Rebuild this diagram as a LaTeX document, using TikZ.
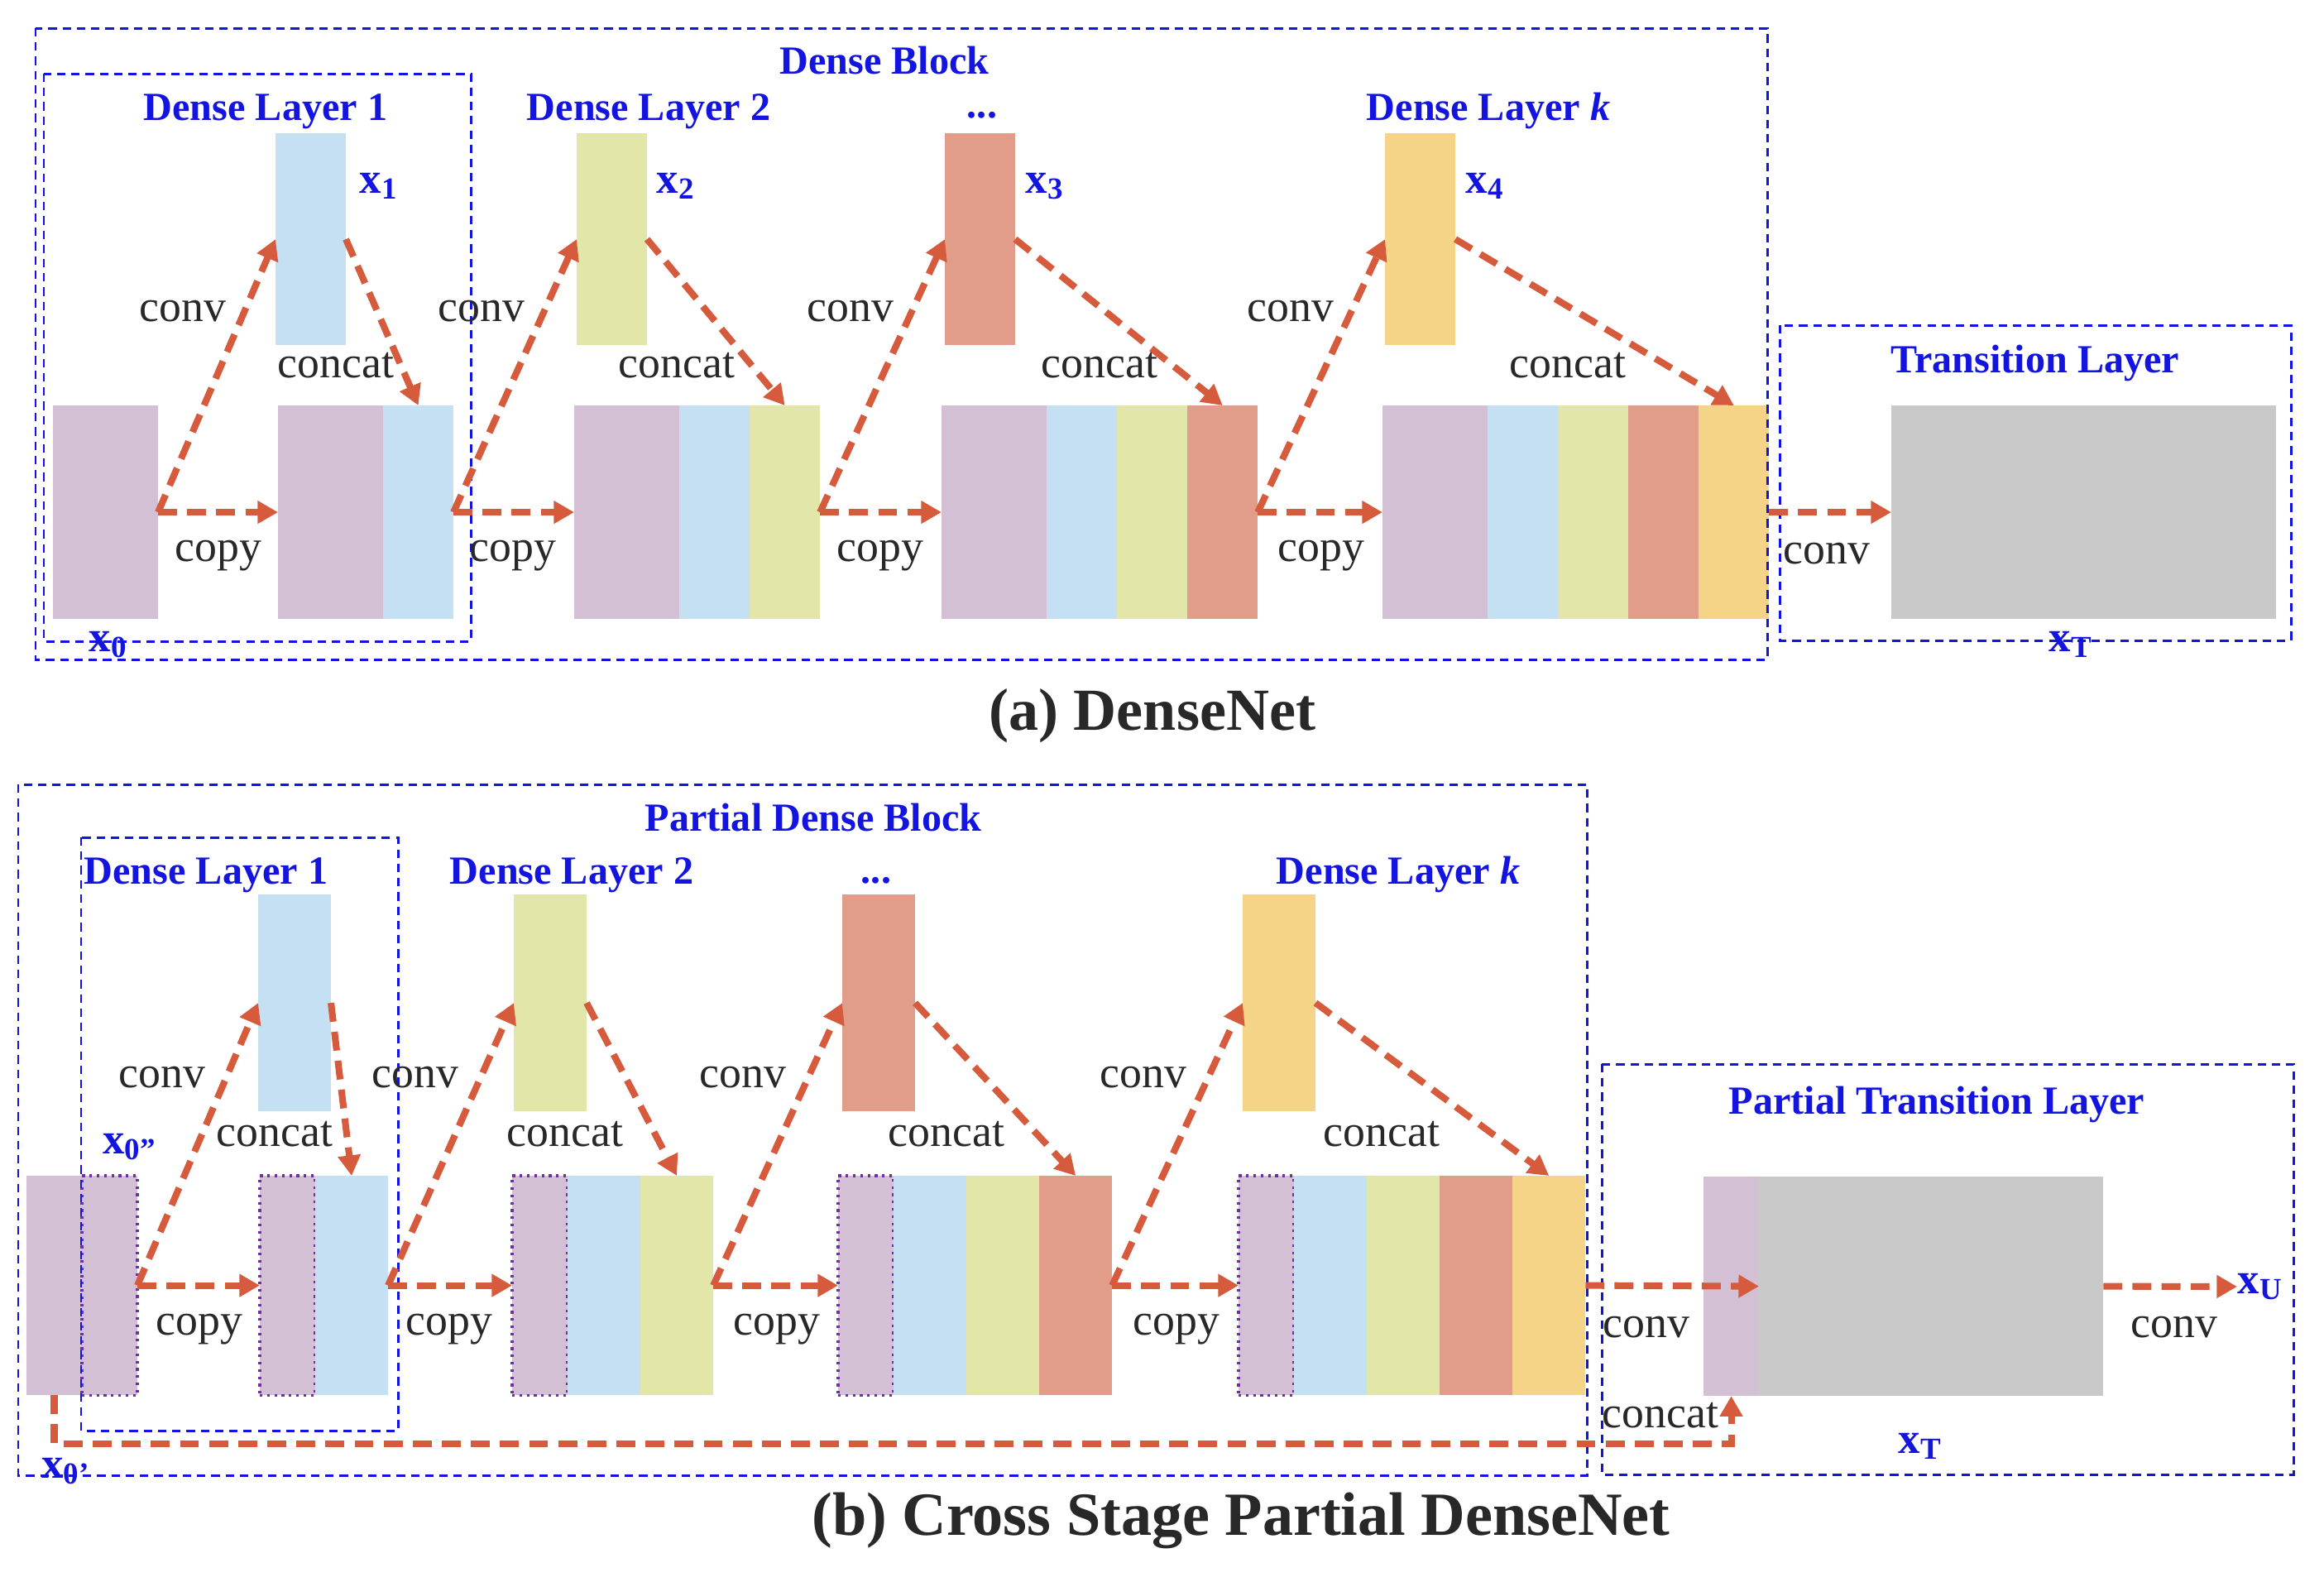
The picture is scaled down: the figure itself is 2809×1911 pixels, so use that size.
\documentclass[tikz,border=0pt]{standalone}
\usepackage{fontspec}
\setmainfont{Liberation Serif}
\usetikzlibrary{positioning}
\usetikzlibrary{arrows.meta}
\definecolor{cpur}{RGB}{211,192,213}
\definecolor{cblu}{RGB}{197,224,242}
\definecolor{cgrn}{RGB}{226,230,169}
\definecolor{cred}{RGB}{226,156,138}
\definecolor{cyel}{RGB}{245,212,135}
\definecolor{cgry}{RGB}{201,201,201}
\definecolor{carr}{RGB}{214,90,60}
\definecolor{cbox}{RGB}{20,20,225}
\definecolor{cdot}{RGB}{112,48,160}
\definecolor{ctxt}{RGB}{40,40,40}
\tikzset{
fm/.style={ % one slice of a feature map
inner sep=0pt, outer sep=0pt, anchor=north west, fill=#1},
sa/.style={fm=#1, minimum width=0.85cm, minimum height=2.58cm}, % slice in (a)
ba/.style={fm=cpur, minimum width=1.27cm, minimum height=2.58cm}, % input x0 in (a)
ta/.style={fm=#1, minimum width=0.85cm, minimum height=2.56cm}, % new output in (a)
sb/.style={fm=#1, minimum width=0.88cm, minimum height=2.65cm}, % slice in (b)
pb/.style={fm=cpur, minimum width=0.67cm, minimum height=2.65cm}, % half of x0 in (b)
pd/.style={pb, draw=cdot, line width=0.9pt, dash pattern=on 0.9pt off 1.6pt},
tb/.style={fm=#1, minimum width=0.88cm, minimum height=2.62cm}, % new output in (b)
flow/.style={ % dashed orange connectors
draw=carr, line width=2.3pt, dash pattern=on 6.5pt off 3.5pt,
-{Triangle[length=7pt,width=7.5pt]}},
grp/.style={draw=cbox, line width=0.85pt, dash pattern=on 2.9pt off 2pt}, % layer boxes
ttl/.style={text=cbox, font=\fontsize{13.7}{16}\selectfont\bfseries, anchor=base},
op/.style={text=ctxt, font=\fontsize{15.3}{18}\selectfont},
xl/.style={text=cbox, font=\fontsize{15}{18}\selectfont\bfseries, inner sep=0pt},
figcap/.style={text=ctxt, font=\fontsize{20.5}{24}\selectfont\bfseries, anchor=base}
}

\begin{document}
\begin{tikzpicture}[x=0.01cm, y=-0.01cm]
\useasboundingbox (0,0) rectangle (2809,1911);

% (a) DenseNet
\node[ba] (a0) at (64,490) {};
\node[ta=cblu] (ax1) at (333,161) {};
\node[ta=cgrn] (ax2) at (697,161) {};
\node[ta=cred] (ax3) at (1142,161) {};
\node[ta=cyel] (ax4) at (1674,161) {};

\node[ba] (a1p) at (336,490) {};
\node[sa=cblu, right=0pt of a1p] (a1b) {};

\node[ba] (a2p) at (694,490) {};
\node[sa=cblu, right=0pt of a2p] (a2b) {};
\node[sa=cgrn, right=0pt of a2b] (a2g) {};

\node[ba] (a3p) at (1138,490) {};
\node[sa=cblu, right=0pt of a3p] (a3b) {};
\node[sa=cgrn, right=0pt of a3b] (a3g) {};
\node[sa=cred, right=0pt of a3g] (a3r) {};

\node[ba] (a4p) at (1671,490) {};
\node[sa=cblu, right=0pt of a4p] (a4b) {};
\node[sa=cgrn, right=0pt of a4b] (a4g) {};
\node[sa=cred, right=0pt of a4g] (a4r) {};
\node[sa=cyel, right=0pt of a4r] (a4y) {};

\node[fm=cgry, minimum width=4.65cm, minimum height=2.58cm] (aT) at (2286,490) {};

\draw[grp] (43,34) rectangle (2136,797);
\draw[grp] (53,89) rectangle (569,775);
\draw[grp] (2151,393) rectangle (2769,774);

\draw[flow] (a0.east) -- (ax1.west);
\draw[flow] (a0.east) -- (a1p.west);
\draw[flow] (ax1.east) -- (a1b.north);
\draw[flow] (a1b.east) -- (ax2.west);
\draw[flow] (a1b.east) -- (a2p.west);
\draw[flow] (ax2.east) -- (a2g.north);
\draw[flow] (a2g.east) -- (ax3.west);
\draw[flow] (a2g.east) -- (a3p.west);
\draw[flow] (ax3.east) -- (a3r.north);
\draw[flow] (a3r.east) -- (ax4.west);
\draw[flow] (a3r.east) -- (a4p.west);
\draw[flow] (ax4.east) -- (a4y.north);
\draw[flow] (a4y.east) -- (aT.west);

\node[ttl] (tA) at (1069,89) {Dense Block};
\node[ttl] (tA1) at (321,145) {Dense Layer 1};
\node[ttl] (tA2) at (784,145) {Dense Layer 2};
\node[ttl] (tA3) at (1187,142) {...};
\node[ttl] (tAk) at (1799,145) {Dense Layer \textit{k}};
\node[ttl] (tAT) at (2460,450) {Transition Layer};

\node[op] (cvA1) at (221,376) {conv};
\node[op] (cvA2) at (582,376) {conv};
\node[op] (cvA3) at (1028,376) {conv};
\node[op] (cvA4) at (1560,376) {conv};
\node[op] (cvAT) at (2208,669) {conv};
\node[op] (ccA1) at (406,442) {concat};
\node[op] (ccA2) at (818,442) {concat};
\node[op] (ccA3) at (1329,442) {concat};
\node[op] (ccA4) at (1895,442) {concat};
\node[op] (cpA1) at (264,672) {copy};
\node[op] (cpA2) at (620,672) {copy};
\node[op] (cpA3) at (1064,672) {copy};
\node[op] (cpA4) at (1597,672) {copy};

\node[xl, anchor=west] (lx1) at (434,225) {x\textsubscript{1}};
\node[xl, anchor=west] (lx2) at (793,225) {x\textsubscript{2}};
\node[xl, anchor=west] (lx3) at (1239,225) {x\textsubscript{3}};
\node[xl, anchor=west] (lx4) at (1771,225) {x\textsubscript{4}};
\node[xl] (lx0) at (131,779) {x\textsubscript{0}};
\node[xl] (lxT) at (2503,779) {x\textsubscript{T}};

\node[figcap] (capA) at (1393,882) {(a) DenseNet};

% (b) Cross Stage Partial DenseNet
\node[pb] (b0) at (32,1421) {};
\node[pd, right=0pt of b0] (b0d) {};
\node[tb=cblu] (bx1) at (312,1081) {};
\node[tb=cgrn] (bx2) at (621,1081) {};
\node[tb=cred] (bx3) at (1018,1081) {};
\node[tb=cyel] (bx4) at (1502,1081) {};

\node[pd] (b1p) at (314,1421) {};
\node[sb=cblu, right=0pt of b1p] (b1b) {};

\node[pd] (b2p) at (619,1421) {};
\node[sb=cblu, right=0pt of b2p] (b2b) {};
\node[sb=cgrn, right=0pt of b2b] (b2g) {};

\node[pd] (b3p) at (1013,1421) {};
\node[sb=cblu, right=0pt of b3p] (b3b) {};
\node[sb=cgrn, right=0pt of b3b] (b3g) {};
\node[sb=cred, right=0pt of b3g] (b3r) {};

\node[pd] (b4p) at (1497,1421) {};
\node[sb=cblu, right=0pt of b4p] (b4b) {};
\node[sb=cgrn, right=0pt of b4b] (b4g) {};
\node[sb=cred, right=0pt of b4g] (b4r) {};
\node[sb=cyel, right=0pt of b4r] (b4y) {};

\node[pb] (bTp) at (2059,1422) {};
\node[fm=cgry, minimum width=4.16cm, minimum height=2.65cm, right=0pt of bTp] (bT) {};
\coordinate (xu) at (2704,1555);

\draw[grp] (22,948) rectangle (1918,1783);
\draw[grp] (98,1012) rectangle (481,1729);
\draw[grp] (1936,1286) rectangle (2772,1782);

\draw[flow] (b0d.east) -- (bx1.west);
\draw[flow] (b0d.east) -- (b1p.west);
\draw[flow] (bx1.east) -- (b1b.north);
\draw[flow] (b1b.east) -- (bx2.west);
\draw[flow] (b1b.east) -- (b2p.west);
\draw[flow] (bx2.east) -- (b2g.north);
\draw[flow] (b2g.east) -- (bx3.west);
\draw[flow] (b2g.east) -- (b3p.west);
\draw[flow] (bx3.east) -- (b3r.north);
\draw[flow] (b3r.east) -- (bx4.west);
\draw[flow] (b3r.east) -- (b4p.west);
\draw[flow] (bx4.east) -- (b4y.north);
\draw[flow] (b4y.east) -- (bT.west);
\draw[flow] (bT.east) -- (xu);
\draw[flow] (b0.south) -- ++(0,59) -| (bTp.south);

\node[ttl] (tB) at (983,1004) {Partial Dense Block};
\node[ttl] (tB1) at (249,1068) {Dense Layer 1};
\node[ttl] (tB2) at (691,1068) {Dense Layer 2};
\node[ttl] (tB3) at (1059,1067) {...};
\node[ttl] (tBk) at (1690,1068) {Dense Layer \textit{k}};
\node[ttl] (tBT) at (2341,1346) {Partial Transition Layer};

\node[op] (cvB1) at (196,1302) {conv};
\node[op] (cvB2) at (502,1302) {conv};
\node[op] (cvB3) at (898,1302) {conv};
\node[op] (cvB4) at (1382,1302) {conv};
\node[op] (cvBT) at (1990,1604) {conv};
\node[op] (cvBU) at (2628,1604) {conv};
\node[op] (ccB1) at (332,1371) {concat};
\node[op] (ccB2) at (683,1371) {concat};
\node[op] (ccB3) at (1144,1371) {concat};
\node[op] (ccB4) at (1670,1371) {concat};
\node[op] (ccBT) at (2007,1711) {concat};
\node[op] (cpB1) at (241,1607) {copy};
\node[op] (cpB2) at (543,1607) {copy};
\node[op] (cpB3) at (939,1607) {copy};
\node[op] (cpB4) at (1422,1607) {copy};

\node[xl] (lx0b) at (157,1386) {x\textsubscript{0''}};
\node[xl] (lx0a) at (80,1778) {x\textsubscript{0'}};
\node[xl] (lxTb) at (2321,1748) {x\textsubscript{T}};
\node[xl, anchor=west] (lxU) at (xu) {x\textsubscript{U}};

\node[figcap, font=\fontsize{21.1}{25}\selectfont\bfseries] (capB) at (1500,1855) {(b) Cross Stage Partial DenseNet};
\end{tikzpicture}
\end{document}
